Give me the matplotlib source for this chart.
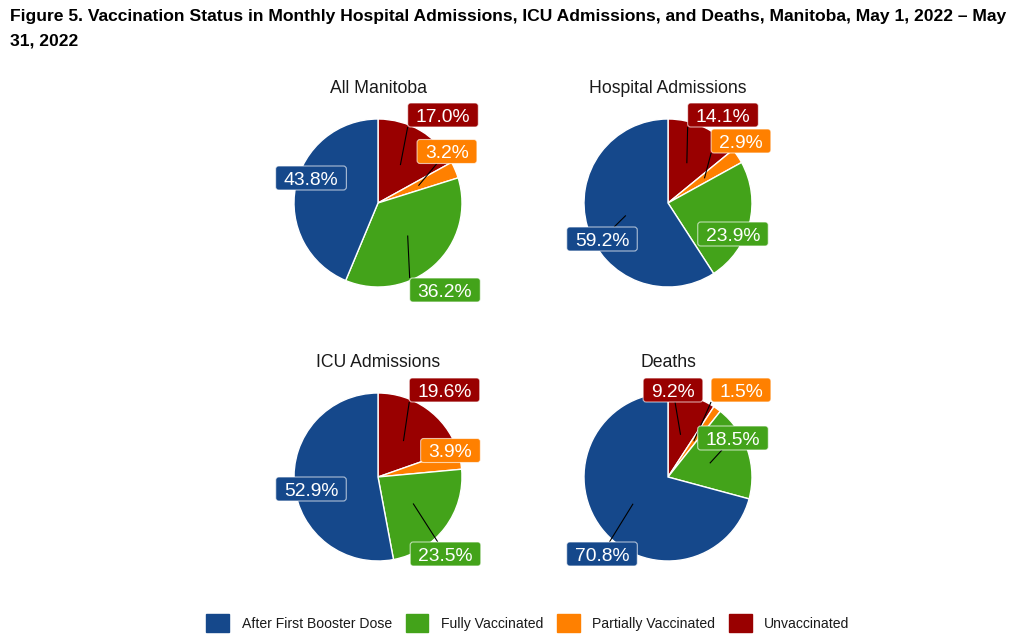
import matplotlib
matplotlib.use("Agg")
import matplotlib.pyplot as plt
from matplotlib.patches import FancyBboxPatch, Patch
import numpy as np

plt.rcParams['font.family'] = ['Liberation Sans', 'DejaVu Sans']

# ---------------- data ----------------
title_line1 = ("Figure 5. Vaccination Status in Monthly Hospital Admissions, ICU Admissions, "
               "and Deaths, Manitoba, May 1, 2022 \u2013 May")
title_line2 = "31, 2022"
groups = ["All Manitoba", "Hospital Admissions", "ICU Admissions", "Deaths"]
statuses = ["Unvaccinated", "Partially Vaccinated", "Fully Vaccinated", "After First Booster Dose"]
unvaccinated = [17.0, 14.1, 19.6, 9.2]
partially = [3.2, 2.9, 3.9, 1.5]
fully = [36.2, 23.9, 23.5, 18.5]
booster = [43.8, 59.2, 52.9, 70.8]
legend_order = ["After First Booster Dose", "Fully Vaccinated", "Partially Vaccinated", "Unvaccinated"]

colors = {
    "Unvaccinated": "#990000",
    "Partially Vaccinated": "#FF8000",
    "Fully Vaccinated": "#43A31A",
    "After First Booster Dose": "#15488B",
}

# ---------------- layout (pixels, y measured from top) ----------------
W, H = 1024, 644
centers = [(378, 203), (668, 203), (378, 477), (668, 477)]
R = 84
anchor_r = 44
title_gap = 110
# label box centre offsets from pie centre, order: unvacc, partial, fully, booster
label_offsets = [
    [(65, -88), (69, -51.5), (67, 87), (-67, -25)],
    [(55, -88), (73, -62), (65, 31), (-66, 36)],
    [(66.5, -87), (72.5, -26.5), (67.5, 77), (-67, 12)],
    [(5, -87), (73, -87), (65, -39), (-66, 77)],
]
label_fs = 13.9
pad_x, box_h = 8.0, 24
min_seg = 14.5

fig = plt.figure(figsize=(W / 100, H / 100), dpi=100)
ax = fig.add_axes([0, 0, 1, 1])

series = [unvaccinated, partially, fully, booster]

for gi, g in enumerate(groups):
    cx, cy = centers[gi]
    cyu = H - cy
    vals = [s[gi] for s in series]
    ax.pie(vals, colors=[colors[s] for s in statuses], startangle=90, counterclock=False,
           center=(cx, cyu), radius=R,
           wedgeprops=dict(edgecolor="white", linewidth=1.0))
    ax.text(cx, H - (cy - title_gap), g, ha="center", va="baseline", fontsize=12.7, color="#1a1a1a")

ax.set_xlim(0, W)
ax.set_ylim(0, H)
ax.set_aspect("auto")
ax.axis("off")

fig.canvas.draw()
renderer = fig.canvas.get_renderer()
cap_px = label_fs * 100 / 72 * 0.716

for gi, g in enumerate(groups):
    cx, cy = centers[gi]
    cyu = H - cy
    vals = np.array([s[gi] for s in series], dtype=float)
    frac = vals / vals.sum()
    cum = np.cumsum(frac) - frac / 2
    for si, st in enumerate(statuses):
        theta = np.deg2rad(90 - 360 * cum[si])
        axp = cx + anchor_r * np.cos(theta)
        ayp = cyu + anchor_r * np.sin(theta)
        dx, dy = label_offsets[gi][si]
        bx, by = cx + dx, cyu - dy
        label = f"{series[si][gi]:.1f}%"
        t = ax.text(bx, by - cap_px / 2, label, ha="center", va="baseline",
                    fontsize=label_fs, color="white", zorder=6)
        tw = t.get_window_extent(renderer).width
        bw = tw + 2 * pad_x
        x1, x2 = bx - bw / 2, bx + bw / 2
        y1, y2 = by - box_h / 2, by + box_h / 2
        box = FancyBboxPatch((x1, y1), bw, box_h,
                             boxstyle="round,pad=0,rounding_size=3",
                             fc=colors[st], ec=(1, 1, 1, 0.65), lw=0.8, zorder=5)
        ax.add_patch(box)
        # segment (ggrepel-like): diagonal -> nearest corner, else toward centre clipped at edge
        out_x = axp < x1 or axp > x2
        out_y = ayp < y1 or ayp > y2
        if out_x and out_y:
            ex = x1 if axp < x1 else x2
            ey = y1 if ayp < y1 else y2
        elif out_x or out_y:
            ddx, ddy = bx - axp, by - ayp
            lim = []
            if abs(ddx) > 1e-9:
                lim.append((bw / 2) / abs(ddx))
            if abs(ddy) > 1e-9:
                lim.append((box_h / 2) / abs(ddy))
            te = 1 - min(lim)
            ex, ey = axp + te * ddx, ayp + te * ddy
        else:
            continue
        if np.hypot(ex - axp, ey - ayp) > min_seg:
            ax.plot([axp, ex], [ayp, ey], color="black", lw=0.8, zorder=4,
                    solid_capstyle="butt")

# title
fig.text(10 / W, 1 - 21 / H, title_line1, ha="left", va="baseline", fontsize=12.6,
         fontweight="bold", color="black")
fig.text(10 / W, 1 - 46 / H, title_line2, ha="left", va="baseline", fontsize=12.6,
         fontweight="bold", color="black")

# legend
handles = [Patch(facecolor=colors[s], edgecolor=colors[s], label=s) for s in legend_order]
fig.legend(handles=handles, loc="center", bbox_to_anchor=(528 / W, 1 - 623 / H), ncol=4,
           frameon=False, fontsize=10.1, handlelength=1.62, handleheight=1.63,
           handletextpad=0.9, columnspacing=0.97, borderpad=0, labelcolor="#1a1a1a")

fig.savefig("out.png", dpi=100, facecolor="white")
